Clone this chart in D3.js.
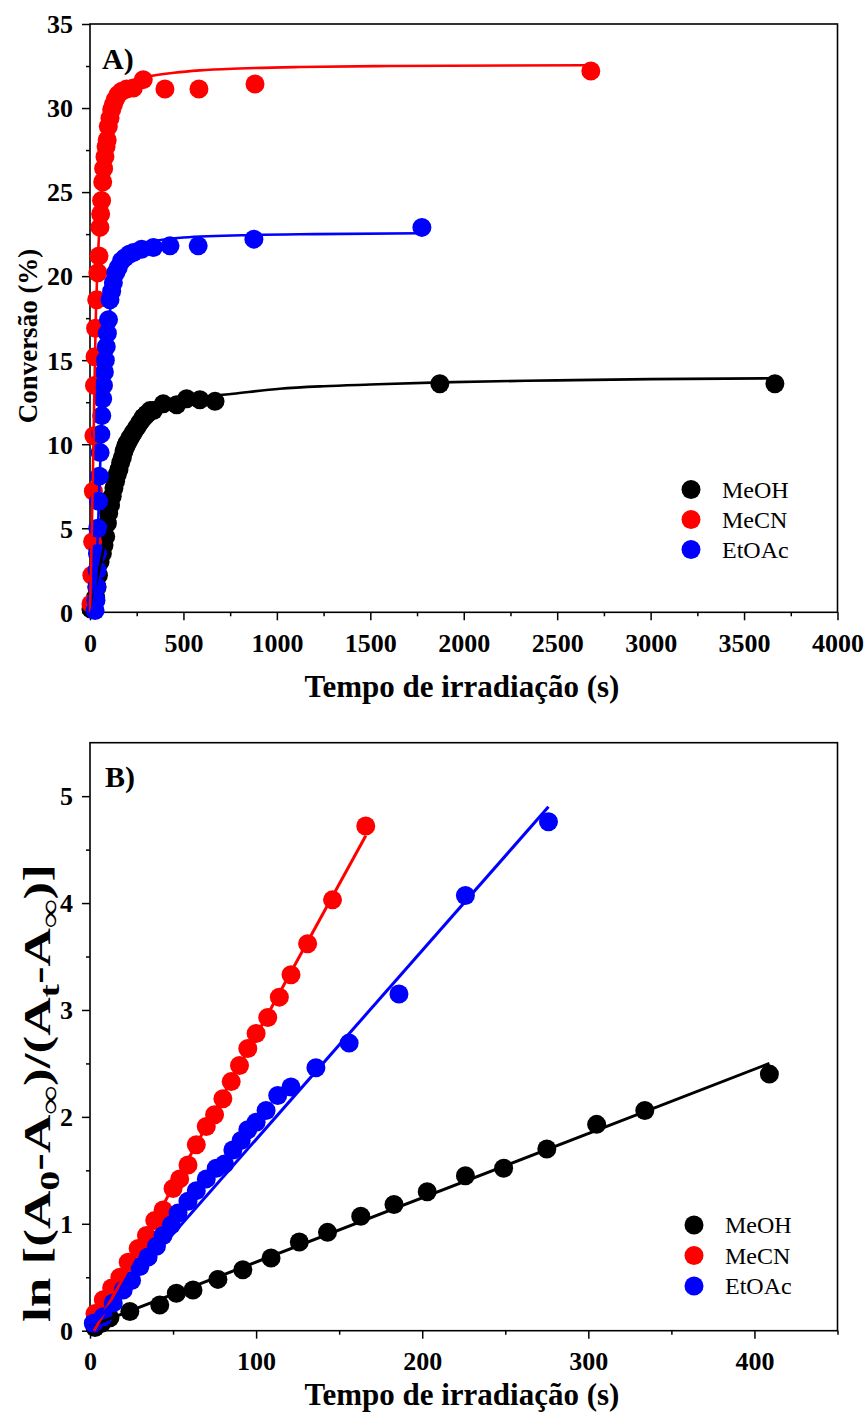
<!DOCTYPE html>
<html>
<head>
<meta charset="utf-8">
<script src="https://cdn.jsdelivr.net/npm/d3@7"></script>
<style>
  body { margin: 0; background: #fff; }
  svg { display: block; }
  text { font-family: "Liberation Serif", "Times New Roman", serif; }
</style>
</head>
<body>
<script>
// ---- Series names and colours ----
const solvents = ["MeOH", "MeCN", "EtOAc"];
const solventColors = ["#000000", "#ff0000", "#0000ff"];

// ---- Panel A: conversion (%) vs irradiation time (s) ----
const meohConv = [[5,0.2],[20,0.5],[30,0.9],[38,1.5],[45,2.2],[54,3.0],[66,3.5],[75,4.0],[84,4.5],[93,5.3],[100,5.9],[110,6.4],[119,6.9],[128,7.4],[137,7.8],[146,8.2],[155,8.5],[164,8.9],[173,9.2],[182,9.6],[191,9.9],[200,10.1],[215,10.4],[232,10.7],[250,11.0],[267,11.3],[285,11.6],[303,11.8],[321,12.0],[339,12.0],[392,12.4],[464,12.35],[517,12.7],[588,12.65],[669,12.55],[1872,13.6],[3665,13.6]];
const mecnConv = [[5,0.5],[10,2.2],[14,4.2],[18,7.2],[21,10.5],[24,13.5],[27,15.2],[30,16.9],[36,18.6],[42,20.2],[48,21.2],[53,22.9],[57,23.7],[62,24.5],[68,25.6],[73,26.4],[80,27.1],[86,27.7],[92,28.1],[98,28.9],[107,29.4],[116,29.9],[125,30.2],[135,30.5],[150,30.8],[170,31.0],[196,31.13],[232,31.19],[285,31.69],[401,31.13],[583,31.13],[883,31.43],[2680,32.2]];
const etoacConv = [[27,0.1],[32,0.7],[36,1.5],[38,2.5],[40,3.5],[42,5.0],[46,6.6],[50,8.1],[54,9.5],[58,10.6],[63,11.7],[68,12.7],[72,13.5],[77,14.3],[82,15.0],[87,15.8],[93,16.6],[99,17.4],[107,18.6],[116,19.1],[125,19.6],[138,20.2],[151,20.5],[168,20.9],[187,21.1],[210,21.3],[232,21.4],[276,21.6],[339,21.7],[428,21.8],[579,21.8],[877,22.2],[1776,22.9]];

// fitted curves (panel A)
const meohConvFit = [[0,0],[25,1.2],[50,2.6],[75,3.9],[100,5.1],[125,6.2],[150,7.2],[175,8.1],[200,8.9],[250,10.1],[300,11.0],[350,11.6],[400,12.05],[500,12.55],[600,12.8],[766,13.0],[1016,13.3],[1250,13.45],[1500,13.55],[1872,13.68],[2500,13.8],[3000,13.87],[3665,13.92]];
const mecnConvFit = [[0,0],[10,5],[20,11],[30,17],[40,20.5],[50,22.8],[60,24.6],[75,26.7],[100,28.8],[130,30.2],[170,31.1],[220,31.6],[321,31.9],[450,32.1],[588,32.24],[800,32.35],[1123,32.44],[1600,32.5],[2680,32.55]];
const etoacConvFit = [[5,0],[30,1.5],[40,4],[50,7.5],[60,10.3],[70,12.6],[80,14.4],[90,15.9],[100,17.2],[120,18.9],[140,20.0],[170,20.9],[200,21.4],[250,21.8],[350,22.1],[500,22.3],[877,22.45],[1200,22.5],[1776,22.55]];

// ---- Panel B: ln[(A0-Ainf)/(At-Ainf)] vs irradiation time (s) ----
const meohLn = [[3,0.03],[7,0.07],[12,0.12],[24,0.18],[42,0.24],[52,0.35],[62,0.38],[77,0.48],[92,0.57],[109,0.68],[126,0.83],[143,0.92],[163,1.07],[183,1.18],[203,1.30],[226,1.45],[249,1.52],[275,1.70],[305,1.93],[334,2.06],[409,2.40]];
const mecnLn = [[3,0.16],[8,0.29],[13,0.40],[18,0.50],[23,0.64],[29,0.77],[34,0.89],[39,1.03],[44,1.13],[50,1.33],[54,1.42],[59,1.55],[64,1.74],[70,1.91],[75,2.02],[80,2.17],[85,2.33],[90,2.48],[95,2.64],[100,2.78],[107,2.93],[114,3.12],[121,3.33],[131,3.62],[146,4.03],[166,4.72]];
const etoacLn = [[2,0.07],[8,0.13],[14,0.26],[20,0.38],[25,0.47],[30,0.60],[35,0.69],[40,0.79],[44,0.89],[49,0.99],[53,1.10],[59,1.21],[64,1.31],[70,1.42],[76,1.52],[81,1.56],[86,1.69],[91,1.78],[95,1.88],[100,1.95],[106,2.06],[113,2.20],[121,2.28],[136,2.46],[156,2.69],[186,3.15],[226,4.07],[276,4.76]];

// linear fits (panel B), end points
const meohLnFit = [[0,0.04],[409,2.50]];
const mecnLnFit = [[2.5,0],[166,4.63]];
const etoacLnFit = [[0.5,0.03],[276,4.90]];

// ---- Tick values ----
const ticksAX = [0,500,1000,1500,2000,2500,3000,3500,4000];
const minorAX = [250,750,1250,1750,2250,2750,3250,3750];
const ticksAY = [0,5,10,15,20,25,30,35];
const minorAY = [2.5,7.5,12.5,17.5,22.5,27.5,32.5];
const ticksBX = [0,100,200,300,400];
const minorBX = [50,150,250,350,450];
const ticksBY = [0,1,2,3,4,5];
const minorBY = [0.5,1.5,2.5,3.5,4.5];

const W = 866, H = 1422;
const svg = d3.select("body").append("svg").attr("width", W).attr("height", H);

const FONT = '"Liberation Serif", "Times New Roman", serif';

function drawPanel(o) {
  const x = d3.scaleLinear().domain(o.xDomain).range([90, 837.5]);
  const y = d3.scaleLinear().domain(o.yDomain).range([o.bottom, o.top]);
  const g = svg.append("g");

  // frame
  g.append("rect")
    .attr("x", x.range()[0]).attr("y", o.top)
    .attr("width", x.range()[1] - x.range()[0]).attr("height", o.bottom - o.top)
    .attr("fill", "none").attr("stroke", "#000").attr("stroke-width", 1.6);

  // axes: major ticks with labels
  const xa = g.append("g").attr("transform", `translate(0,${o.bottom})`)
    .call(d3.axisBottom(x).tickValues(o.xTicks).tickSize(8).tickFormat(d3.format("d")));
  const ya = g.append("g").attr("transform", `translate(90,0)`)
    .call(d3.axisLeft(y).tickValues(o.yTicks).tickSize(8).tickFormat(d3.format("d")));
  // minor ticks
  const xm = g.append("g").attr("transform", `translate(0,${o.bottom})`)
    .call(d3.axisBottom(x).tickValues(o.xMinor).tickSize(4).tickFormat(""));
  const ym = g.append("g").attr("transform", `translate(90,0)`)
    .call(d3.axisLeft(y).tickValues(o.yMinor).tickSize(4).tickFormat(""));

  [xa, ya, xm, ym].forEach(a => {
    a.select(".domain").remove();
    a.selectAll(".tick line").attr("stroke", "#000").attr("stroke-width", 1.5);
  });
  xa.selectAll(".tick text")
    .attr("y", 21).attr("dy", "0.71em")
    .attr("font-family", FONT).attr("font-size", 26).attr("font-weight", "bold").attr("fill", "#000");
  ya.selectAll(".tick text")
    .attr("x", -17).attr("dy", "0.34em")
    .attr("font-family", FONT).attr("font-size", 26).attr("font-weight", "bold").attr("fill", "#000");

  // scatter points, MeOH, MeCN, EtOAc in that order
  o.points.forEach((pts, i) => {
    g.append("g").selectAll("circle").data(pts).join("circle")
      .attr("cx", d => x(d[0])).attr("cy", d => y(d[1])).attr("r", 9.5)
      .attr("fill", solventColors[i]);
  });

  // fitted lines
  const line = d3.line().x(d => x(d[0])).y(d => y(d[1])).curve(d3.curveMonotoneX);
  o.fits.forEach((pts, i) => {
    g.append("path").datum(pts).attr("d", line)
      .attr("fill", "none").attr("stroke", solventColors[i]).attr("stroke-width", o.lineWidth);
  });

  // panel letter
  g.append("text").attr("x", o.letterX).attr("y", o.letterY)
    .attr("font-size", 30).attr("font-weight", "bold").text(o.letter);

  // legend
  const lg = g.append("g");
  solvents.forEach((s, i) => {
    lg.append("circle").attr("cx", o.legendX).attr("cy", o.legendY + i * o.legendStep)
      .attr("r", 9.5).attr("fill", solventColors[i]);
    lg.append("text").attr("x", o.legendX + 31).attr("y", o.legendY + i * o.legendStep)
      .attr("dy", "0.35em").attr("font-size", 24).text(s);
  });

  // x-axis title
  g.append("text").attr("x", 462).attr("y", o.xTitleY).attr("text-anchor", "middle")
    .attr("font-size", 31).attr("font-weight", "bold").text("Tempo de irradiação (s)");

  return { g, x, y };
}

const A = drawPanel({
  xDomain: [0, 4000], yDomain: [0, 35], top: 24, bottom: 612.3,
  xTicks: ticksAX, xMinor: minorAX, yTicks: ticksAY, yMinor: minorAY,
  points: [meohConv, mecnConv, etoacConv],
  fits: [meohConvFit, mecnConvFit, etoacConvFit],
  lineWidth: 2.6,
  letter: "A)", letterX: 102, letterY: 69,
  legendX: 691, legendY: 489.5, legendStep: 30,
  xTitleY: 697
});

const B = drawPanel({
  xDomain: [0, 450], yDomain: [0, 5.5], top: 742.7, bottom: 1330.7,
  xTicks: ticksBX, xMinor: minorBX, yTicks: ticksBY, yMinor: minorBY,
  points: [meohLn, mecnLn, etoacLn],
  fits: [meohLnFit, mecnLnFit, etoacLnFit],
  lineWidth: 3,
  letter: "B)", letterX: 105, letterY: 787,
  legendX: 694, legendY: 1225, legendStep: 30.5,
  xTitleY: 1405
});

// y-axis titles
svg.append("text")
  .attr("transform", "translate(37,336) rotate(-90)")
  .attr("text-anchor", "middle").attr("font-size", 27).attr("font-weight", "bold")
  .text("Conversão (%)");

// panel B title starts at the bottom and runs upward, stretched along its length
const yb = svg.append("text")
  .attr("transform", "translate(50,1322) rotate(-90)")
  .attr("text-anchor", "start").attr("font-size", 37).attr("font-weight", "bold")
  .attr("textLength", 458).attr("lengthAdjust", "spacingAndGlyphs");
yb.append("tspan").text("ln [(A");
yb.append("tspan").attr("dy", 9).attr("font-size", 28).text("0");
yb.append("tspan").attr("dy", -9).text("-A");
yb.append("tspan").attr("dy", 9).attr("font-size", 28).text("∞");
yb.append("tspan").attr("dy", -9).text(")/(A");
yb.append("tspan").attr("dy", 9).attr("font-size", 28).text("t");
yb.append("tspan").attr("dy", -9).text("-A");
yb.append("tspan").attr("dy", 9).attr("font-size", 28).text("∞");
yb.append("tspan").attr("dy", -9).text(")]");
</script>
</body>
</html>
